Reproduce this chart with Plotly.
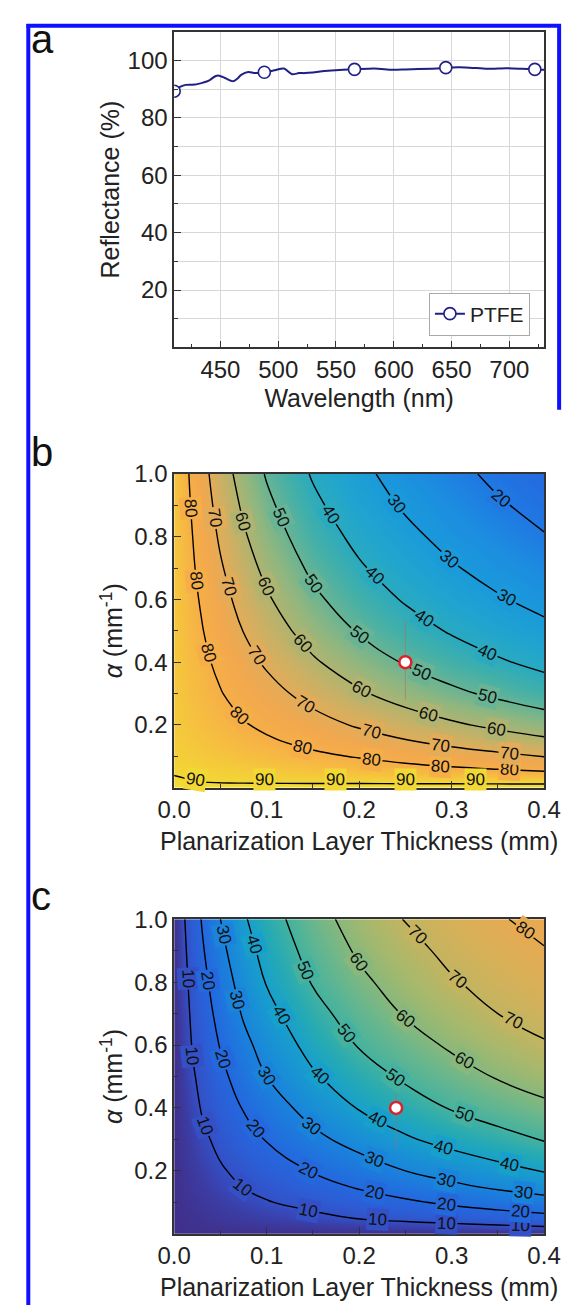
import math
import bisect
import plotly.graph_objects as go

FONT = "Arial, Liberation Sans, sans-serif"

# ---------------- panel a data ----------------
wavelength = [410, 415, 420, 428, 435, 440, 446, 449, 454, 461, 465, 468, 474, 480,
              488, 497, 505, 512, 518, 523, 530, 540, 553, 566, 583, 599, 610, 621,
              640, 645, 662, 681, 697, 711, 721, 730]
reflectance = [89.5, 90.8, 91.5, 91.6, 92.3, 93.0, 94.6, 94.7, 93.9, 92.8, 93.8, 95.0,
               96.0, 95.6, 95.9, 96.6, 97.2, 95.2, 95.6, 95.6, 95.8, 96.3, 96.7, 96.9,
               97.2, 96.8, 96.9, 97.0, 97.3, 97.5, 97.6, 97.1, 97.3, 97.1, 96.9, 96.8]
marker_wavelength = [410, 488, 566, 645, 722]
marker_reflectance = [89.3, 95.9, 96.9, 97.5, 96.9]

# ---------------- panels b, c data ----------------
thickness = [0, 0.01, 0.02, 0.03, 0.05, 0.075, 0.1, 0.15, 0.2, 0.25, 0.3, 0.35, 0.4]
alpha = [0, 0.02, 0.05, 0.1, 0.15, 0.2, 0.3, 0.4, 0.5, 0.6, 0.7, 0.8, 0.9, 1.0]

eff_b = [
    [92.0, 92.0, 92.0, 92.0, 92.0, 92.0, 92.0, 92.0, 92.0, 92.0, 92.0, 92.0, 92.0],
    [90.8, 90.4, 90.0, 89.7, 89.4, 89.2, 89.1, 89.0, 88.9, 88.8, 88.7, 88.6, 88.5],
    [89.5, 89.3, 89.1, 88.8, 88.4, 87.8, 87.2, 86.0, 85.0, 83.9, 82.7, 81.6, 80.5],
    [88.3, 87.8, 87.4, 86.9, 86.0, 84.9, 83.8, 81.6, 79.4, 76.9, 74.5, 72.1, 69.7],
    [87.7, 87.0, 86.3, 85.7, 84.3, 82.6, 81.0, 77.6, 74.0, 70.4, 67.1, 64.2, 61.6],
    [87.3, 86.4, 85.5, 84.6, 82.8, 80.6, 78.4, 73.6, 68.9, 64.8, 61.3, 58.1, 55.0],
    [87.0, 85.7, 84.3, 83.0, 80.4, 77.0, 73.4, 66.6, 61.1, 56.2, 51.9, 48.2, 44.8],
    [87.0, 85.2, 83.5, 81.7, 78.2, 73.4, 68.7, 61.1, 54.8, 49.3, 44.8, 41.0, 37.7],
    [86.9, 84.8, 82.6, 80.4, 75.8, 69.8, 64.6, 56.2, 49.3, 43.8, 39.2, 35.3, 32.1],
    [86.8, 84.3, 81.7, 79.1, 73.4, 66.6, 61.1, 51.9, 44.8, 39.2, 34.6, 30.8, 27.4],
    [86.7, 83.9, 80.8, 77.7, 71.0, 63.7, 57.9, 48.2, 41.0, 35.3, 30.8, 26.9, 23.8],
    [86.6, 83.5, 80.0, 76.3, 68.7, 61.1, 54.8, 44.8, 37.7, 32.1, 27.4, 23.8, 20.4],
    [86.5, 83.0, 79.1, 74.8, 66.6, 58.6, 51.9, 41.9, 34.6, 29.0, 24.7, 20.8, 17.8],
    [86.4, 82.6, 78.2, 73.4, 64.6, 56.2, 49.3, 39.2, 32.1, 26.4, 22.1, 18.4, 15.6],
]

eff_c = [
    [0.0, 0.0, 0.0, 0.0, 0.0, 0.0, 0.0, 0.0, 0.0, 0.0, 0.0, 0.0, 0.0],
    [0.0, 0.2, 0.5, 0.7, 1.1, 1.7, 2.3, 3.4, 4.5, 5.7, 6.8, 8.0, 9.1],
    [0.0, 0.5, 1.0, 1.6, 2.6, 3.9, 5.2, 7.8, 10.5, 12.5, 14.1, 15.7, 17.3],
    [0.0, 1.0, 1.9, 2.9, 4.8, 7.2, 9.5, 12.8, 15.8, 18.7, 21.5, 24.0, 26.5],
    [0.0, 1.4, 2.8, 4.2, 7.0, 10.3, 12.5, 16.7, 20.9, 24.5, 28.2, 31.5, 34.2],
    [0.0, 1.8, 3.6, 5.5, 9.1, 12.2, 15.0, 20.5, 25.2, 30.0, 33.6, 37.1, 40.5],
    [0.0, 2.7, 5.5, 8.2, 12.2, 16.4, 20.5, 27.6, 33.6, 38.9, 43.1, 46.9, 50.6],
    [0.0, 3.6, 7.3, 10.6, 15.0, 20.5, 25.2, 33.6, 40.5, 45.6, 50.6, 54.4, 58.1],
    [0.0, 4.5, 9.1, 12.2, 17.8, 24.1, 30.0, 38.9, 45.6, 51.5, 56.2, 60.7, 64.0],
    [0.0, 5.5, 10.6, 13.9, 20.5, 27.6, 33.6, 43.1, 50.6, 56.2, 61.3, 65.3, 69.3],
    [0.0, 6.4, 11.7, 15.6, 22.9, 30.9, 37.1, 46.9, 54.4, 60.7, 65.3, 70.0, 72.9],
    [0.0, 7.3, 12.8, 17.2, 25.2, 33.6, 40.5, 50.6, 58.1, 64.0, 69.3, 72.9, 76.3],
    [0.0, 8.2, 13.9, 18.9, 27.6, 36.3, 43.1, 53.4, 61.3, 67.3, 72.1, 75.8, 79.6],
    [0.0, 9.1, 15.0, 20.5, 30.0, 38.9, 45.6, 56.2, 64.0, 70.4, 74.6, 79.3, 82.2],
]

point_b_x = [0.25]
point_b_y = [0.40]
point_b_err_plus = [0.13]
point_b_err_minus = [0.12]
point_c_x = [0.24]
point_c_y = [0.40]
point_c_err_plus = [0.05]
point_c_err_minus = [0.13]

# where the contour labels sit: ('a', alpha) = on that alpha, ('t', thickness) = on that thickness
labels_b = {
    80: [('a', 0.89), ('a', 0.66), ('a', 0.43), ('a', 0.23), ('t', 0.139), ('t', 0.213), ('t', 0.288), ('t', 0.363)],
    70: [('a', 0.86), ('a', 0.64), ('a', 0.42), ('t', 0.142), ('t', 0.213), ('t', 0.288), ('t', 0.363)],
    60: [('a', 0.85), ('a', 0.64), ('t', 0.139), ('t', 0.203), ('t', 0.275), ('t', 0.349)],
    50: [('a', 0.86), ('a', 0.65), ('t', 0.200), ('t', 0.268), ('t', 0.339)],
    40: [('a', 0.87), ('t', 0.217), ('t', 0.271), ('t', 0.339)],
    30: [('t', 0.240), ('t', 0.298), ('t', 0.359)],
    20: [('t', 0.354)],
    90: [('t', 0.023), ('t', 0.098), ('t', 0.174), ('t', 0.250), ('t', 0.326)],
}
labels_c = {
    10: [('a', 0.81), ('a', 0.565), ('a', 0.345), ('t', 0.074), ('t', 0.145), ('t', 0.220), ('t', 0.295), ('t', 0.374)],
    20: [('a', 0.806), ('a', 0.554), ('a', 0.334), ('t', 0.145), ('t', 0.2165), ('t', 0.295), ('t', 0.374)],
    30: [('a', 0.95), ('a', 0.743), ('a', 0.502), ('t', 0.149), ('t', 0.2165), ('t', 0.295), ('t', 0.378)],
    40: [('a', 0.92), ('a', 0.696), ('a', 0.502), ('t', 0.220), ('t', 0.2915), ('t', 0.363)],
    50: [('a', 0.837), ('t', 0.1865), ('t', 0.239), ('t', 0.314)],
    60: [('a', 0.864), ('t', 0.250), ('t', 0.314)],
    70: [('a', 0.95), ('t', 0.3065), ('t', 0.3665)],
    80: [('a', 0.965)],
}
LABEL_MIN_ALPHA = {90: 0.026}

cs_b = [
    [0.00, '#2a50d0'], [0.10, '#2460dc'], [0.15, '#2468e0'], [0.20, '#2078e2'],
    [0.25, '#1c8ee0'], [0.30, '#1a9ada'], [0.35, '#20a4d0'], [0.40, '#2aaac0'],
    [0.45, '#44b0a8'], [0.50, '#68b494'], [0.55, '#90b680'], [0.60, '#b0b470'],
    [0.65, '#ccb064'], [0.70, '#e4ac58'], [0.75, '#f2a84e'], [0.80, '#f6ae48'],
    [0.85, '#f6c040'], [0.90, '#f2d834'], [0.95, '#eee82a'], [1.00, '#ecf024'],
]
cs_c = [
    [0.00, '#40308c'], [0.05, '#3b3ea6'], [0.10, '#3450c6'], [0.15, '#2c5ed6'],
    [0.20, '#2468de'], [0.30, '#1a84dc'], [0.40, '#18a0cc'], [0.45, '#26aab4'],
    [0.50, '#44b2a0'], [0.55, '#64b690'], [0.60, '#88b87c'], [0.65, '#a8b86c'],
    [0.70, '#c4b460'], [0.75, '#d8b058'], [0.80, '#e6aa52'], [0.85, '#eea64c'],
    [1.00, '#f2a040'],
]

W, H = 578, 1305
def px_x(v):
    return v / W
def px_y(v):
    return 1 - v / H

PLOT_L, PLOT_R = 167, 560
XDOM = [px_x(PLOT_L), px_x(PLOT_R)]
B_TOP, B_BOT = 465, 782
C_TOP, C_BOT = 915, 1233
PX_PER_T = (PLOT_R - PLOT_L) / 0.4
PX_PER_A_B = (B_BOT - B_TOP) / 1.0
PX_PER_A_C = (C_BOT - C_TOP) / 1.0
NAVY = '#1f1f86'


def hex_rgb(h):
    h = h.lstrip('#')
    return tuple(int(h[i:i + 2], 16) for i in (0, 2, 4))


def scale_color(cs, f):
    for (p0, c0), (p1, c1) in zip(cs[:-1], cs[1:]):
        if p0 <= f <= p1:
            u = (f - p0) / (p1 - p0) if p1 > p0 else 0
            a, b = hex_rgb(c0), hex_rgb(c1)
            return 'rgb(%d,%d,%d)' % tuple(round(a[k] + (b[k] - a[k]) * u) for k in range(3))
    return cs[-1][1]


def zval(z, tq, aq):
    i = max(0, min(len(alpha) - 2, bisect.bisect_right(alpha, aq) - 1))
    j = max(0, min(len(thickness) - 2, bisect.bisect_right(thickness, tq) - 1))
    u = (tq - thickness[j]) / (thickness[j + 1] - thickness[j])
    v = (aq - alpha[i]) / (alpha[i + 1] - alpha[i])
    return ((1 - u) * (1 - v) * z[i][j] + u * (1 - v) * z[i][j + 1]
            + (1 - u) * v * z[i + 1][j] + u * v * z[i + 1][j + 1])


def cross(z, level, kind, val, n=1500):
    lo, hi = (0.0, 1.0) if kind == 't' else (0.0, 0.4)
    prev = None
    for k in range(n + 1):
        s = lo + (hi - lo) * k / n
        f = (zval(z, val, s) if kind == 't' else zval(z, s, val)) - level
        if prev is not None and prev[1] * f <= 0 and prev[1] != f:
            return prev[0] + (s - prev[0]) * prev[1] / (prev[1] - f)
        prev = (s, f)
    return None


def label_annotations(z, specs, cs, xref, yref, px_per_a):
    anns = []
    for level, places in specs.items():
        for kind, val in places:
            c = cross(z, level, kind, val)
            if c is None:
                continue
            if kind == 't':
                tx, ay = val, c
                d = 0.006
                c0 = cross(z, level, 't', max(0.0, val - d))
                c1 = cross(z, level, 't', min(0.4, val + d))
                if c0 is None or c1 is None:
                    ang = 0
                else:
                    ang = math.degrees(math.atan2(-(c1 - c0) * px_per_a, 2 * d * PX_PER_T))
            else:
                tx, ay = c, val
                d = 0.012
                t0 = cross(z, level, 'a', min(1.0, val + d))
                t1 = cross(z, level, 'a', max(0.0, val - d))
                if t0 is None or t1 is None:
                    ang = 90
                else:
                    ang = math.degrees(math.atan2(2 * d * px_per_a, (t1 - t0) * PX_PER_T))
            if ang > 90:
                ang -= 180
            if ang <= -90:
                ang += 180
            ay = max(ay, LABEL_MIN_ALPHA.get(level, 0.0))
            anns.append(dict(x=tx, y=ay, xref=xref, yref=yref, text=str(level),
                             showarrow=False, textangle=ang, borderpad=1,
                             bgcolor=scale_color(cs, level / 100.0),
                             font=dict(size=17, family=FONT, color='#111111')))
    return anns


fig = go.Figure()

# panel a
fig.add_trace(go.Scatter(x=wavelength, y=reflectance, mode='lines',
                         line=dict(color=NAVY, width=2, shape='spline', smoothing=0.8),
                         showlegend=False, hoverinfo='skip', xaxis='x', yaxis='y'))
fig.add_trace(go.Scatter(x=marker_wavelength, y=marker_reflectance, mode='markers',
                         marker=dict(symbol='circle', size=12, color='white',
                                     line=dict(color=NAVY, width=1.6)),
                         showlegend=False, xaxis='x', yaxis='y'))
fig.add_trace(go.Scatter(x=[None], y=[None], mode='lines+markers', name='PTFE',
                         line=dict(color=NAVY, width=2),
                         marker=dict(symbol='circle', size=12, color='white',
                                     line=dict(color=NAVY, width=1.6)),
                         xaxis='x', yaxis='y'))


def contour(z, cs, start, end, xa, ya):
    return go.Contour(x=thickness, y=alpha, z=z, xaxis=xa, yaxis=ya,
                      colorscale=cs, zmin=0, zmax=100, showscale=False,
                      contours=dict(start=start, end=end, size=10, coloring='heatmap',
                                    showlabels=False),
                      line=dict(color='black', width=1.4, smoothing=1.3),
                      hoverinfo='skip', showlegend=False)


fig.add_trace(contour(eff_b, cs_b, 20, 90, 'x2', 'y2'))
fig.add_trace(contour(eff_c, cs_c, 10, 80, 'x3', 'y3'))


def point(xv, yv, ep, em, xa, ya):
    return go.Scatter(x=xv, y=yv, mode='markers', xaxis=xa, yaxis=ya,
                      error_y=dict(type='data', array=ep, arrayminus=em, symmetric=False,
                                   color='rgba(170,110,100,0.55)', thickness=1, width=0),
                      marker=dict(size=12, color='white', line=dict(color='#e0202a', width=2.5)),
                      showlegend=False, hoverinfo='skip')


fig.add_trace(point(point_b_x, point_b_y, point_b_err_plus, point_b_err_minus, 'x2', 'y2'))
fig.add_trace(point(point_c_x, point_c_y, point_c_err_plus, point_c_err_minus, 'x3', 'y3'))

tickfont = dict(size=24, family=FONT, color='#222222')
titlefont = dict(size=25, family=FONT, color='#222222')
axis_common = dict(showline=True, linecolor='#333333', linewidth=1.5, mirror=True,
                   ticks='inside', ticklen=7, tickwidth=1.3, tickcolor='#333333',
                   tickfont=tickfont, zeroline=False)

fig.update_layout(
    width=W, height=H, margin=dict(l=0, r=0, t=0, b=0),
    paper_bgcolor='white', plot_bgcolor='white',
    font=dict(family=FONT),
    xaxis=dict(domain=XDOM, anchor='y', range=[410, 730], tickmode='linear', tick0=450, dtick=50,
               showgrid=True, gridcolor='#d8d8d8', gridwidth=1,
               minor=dict(tick0=425, dtick=50, ticks='inside', ticklen=4, tickcolor='#333333', showgrid=False),
               title=dict(text='Wavelength (nm)', font=titlefont, standoff=8), **axis_common),
    yaxis=dict(domain=[px_y(337), px_y(18)], anchor='x', range=[0, 110],
               tickvals=[20, 40, 60, 80, 100],
               showgrid=True, gridcolor='#d8d8d8', gridwidth=1,
               minor=dict(tickvals=[10, 30, 50, 70, 90], ticks='inside', ticklen=4,
                          tickcolor='#333333', showgrid=True, gridcolor='#d8d8d8', gridwidth=1),
               title=dict(text='Reflectance (%)', font=titlefont, standoff=1), **axis_common),
    xaxis2=dict(domain=XDOM, anchor='y2', range=[0, 0.4], tickvals=[0, 0.1, 0.2, 0.3, 0.4],
                tickformat='.1f', showgrid=False,
                minor=dict(tickvals=[0.05, 0.15, 0.25, 0.35], ticks='inside', ticklen=4, tickcolor='#333333'),
                title=dict(text='Planarization Layer Thickness (mm)', font=titlefont, standoff=10),
                **axis_common),
    yaxis2=dict(domain=[px_y(B_BOT), px_y(B_TOP)], anchor='x2', range=[0, 1],
                tickvals=[0.2, 0.4, 0.6, 0.8, 1.0], tickformat='.1f', showgrid=False,
                minor=dict(tickvals=[0.1, 0.3, 0.5, 0.7, 0.9], ticks='inside', ticklen=4, tickcolor='#333333'),
                title=dict(text='<i>α</i> (mm<sup>-1</sup>)', font=titlefont, standoff=4),
                **axis_common),
    xaxis3=dict(domain=XDOM, anchor='y3', range=[0, 0.4], tickvals=[0, 0.1, 0.2, 0.3, 0.4],
                tickformat='.1f', showgrid=False,
                minor=dict(tickvals=[0.05, 0.15, 0.25, 0.35], ticks='inside', ticklen=4, tickcolor='#333333'),
                title=dict(text='Planarization Layer Thickness (mm)', font=titlefont, standoff=10),
                **axis_common),
    yaxis3=dict(domain=[px_y(C_BOT), px_y(C_TOP)], anchor='x3', range=[0, 1],
                tickvals=[0.2, 0.4, 0.6, 0.8, 1.0], tickformat='.1f', showgrid=False,
                minor=dict(tickvals=[0.1, 0.3, 0.5, 0.7, 0.9], ticks='inside', ticklen=4, tickcolor='#333333'),
                title=dict(text='<i>α</i> (mm<sup>-1</sup>)', font=titlefont, standoff=4),
                **axis_common),
    legend=dict(x=px_x(545), xanchor='right', y=px_y(325), yanchor='bottom',
                bordercolor='#aaaaaa', borderwidth=1, bgcolor='white',
                font=dict(size=21, family=FONT, color='#222222')),
)

for ann in label_annotations(eff_b, labels_b, cs_b, 'x2', 'y2', PX_PER_A_B):
    fig.add_annotation(**ann)
for ann in label_annotations(eff_c, labels_c, cs_c, 'x3', 'y3', PX_PER_A_C):
    fig.add_annotation(**ann)

for letter, ypx in [('a', 25), ('b', 443), ('c', 892)]:
    fig.add_annotation(text=letter, xref='paper', yref='paper', x=px_x(13), y=px_y(ypx),
                       xanchor='left', yanchor='middle', showarrow=False,
                       font=dict(size=40, family=FONT, color='#111111'))

# blue frame
BLUE = '#1010ff'
fig.add_shape(type='line', xref='paper', yref='paper', x0=px_x(12), x1=px_x(12), y0=0, y1=px_y(10),
              line=dict(color=BLUE, width=4))
fig.add_shape(type='line', xref='paper', yref='paper', x0=px_x(10), x1=px_x(578), y0=px_y(12), y1=px_y(12),
              line=dict(color=BLUE, width=4))
fig.add_shape(type='line', xref='paper', yref='paper', x0=px_x(576), x1=px_x(576), y0=px_y(400), y1=px_y(10),
              line=dict(color=BLUE, width=4))

fig.write_html("out.html")
